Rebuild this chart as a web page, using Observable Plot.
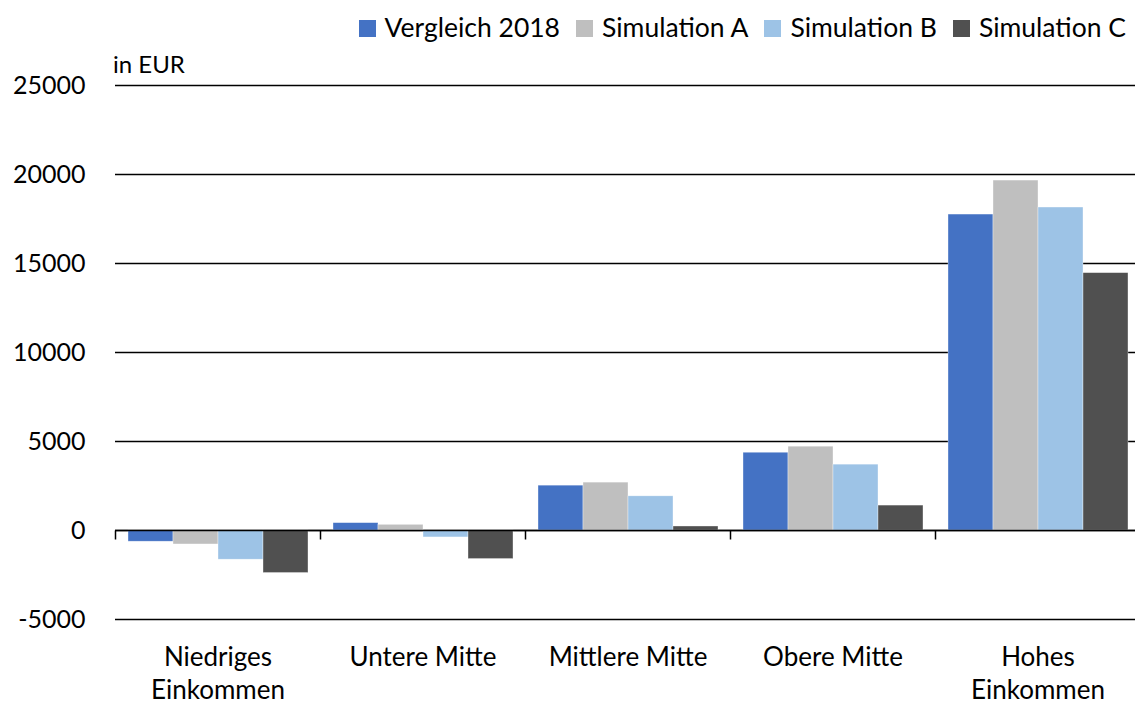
<!DOCTYPE html>
<html>
<head>
<meta charset="utf-8">
<script src="https://cdn.jsdelivr.net/npm/d3@7"></script>
<script src="https://cdn.jsdelivr.net/npm/@observablehq/plot@0.6"></script>
<style>
  html, body { margin: 0; padding: 0; overflow: hidden; background: #fff; }
  body { width: 1135px; height: 704px; position: relative; font-family: Lato, sans-serif; color: #000; }
  #chart { position: absolute; left: 0; top: 0; width: 1135px; height: 704px; overflow: hidden; }
  #legend { position: absolute; top: 14px; right: 9px; font-size: 26.5px; line-height: 26px; white-space: nowrap; }
  #legend .item { display: inline-block; margin-left: 16px; }
  #legend .sw { display: inline-block; width: 17px; height: 17px; margin-right: 9px; }
  #unit { position: absolute; left: 113px; top: 52px; font-size: 24px; line-height: 24px; }
</style>
</head>
<body>
<div id="chart"></div>
<div id="unit">in EUR</div>
<div id="legend"></div>
<script>
const categories = ["Niedriges Einkommen", "Untere Mitte", "Mittlere Mitte", "Obere Mitte", "Hohes Einkommen"];
const categoryLabels = ["Niedriges\nEinkommen", "Untere Mitte", "Mittlere Mitte", "Obere Mitte", "Hohes\nEinkommen"];
const seriesNames = ["Vergleich 2018", "Simulation A", "Simulation B", "Simulation C"];
const vergleich2018 = [-630, 415, 2520, 4370, 17750];
const simulationA = [-785, 320, 2690, 4710, 19660];
const simulationB = [-1640, -390, 1920, 3700, 18145];
const simulationC = [-2390, -1605, 225, 1400, 14460];
const seriesColors = ["#4472C4", "#BFBFBF", "#9DC3E6", "#505050"];
const yTicks = [-5000, 0, 5000, 10000, 15000, 20000, 25000];

const seriesValues = [vergleich2018, simulationA, simulationB, simulationC];
const table = categories.flatMap((c, i) =>
  seriesNames.map((s, j) => ({category: c, series: s, value: seriesValues[j][i]}))
);

const tickSymbol = {
  draw(context) { context.moveTo(0, 0); context.lineTo(0, 9); }
};

const chart = Plot.plot({
  width: 1135,
  height: 704,
  marginTop: 85,
  marginBottom: 85,
  marginLeft: 113,
  marginRight: -7,
  style: {fontFamily: "Lato", fontSize: "25px", color: "black", background: "transparent"},
  facet: {data: table, x: "category"},
  fx: {domain: categories, padding: 0, axis: null, label: null},
  x: {domain: seriesNames, paddingInner: 0, paddingOuter: 0.237, axis: null},
  y: {domain: [-5000, 25000], ticks: yTicks, tickFormat: d => String(d), tickSize: 0, tickPadding: 30, label: null},
  color: {domain: seriesNames, range: seriesColors},
  marks: [
    Plot.ruleY(yTicks, {stroke: "black", strokeWidth: 1.5}),
    Plot.barY(table, {x: "series", y: "value", fill: "series", stroke: "white", strokeWidth: 0.6, strokeOpacity: 0.6}),
    Plot.ruleY([0], {stroke: "black", strokeWidth: 1.5}),
    Plot.dot([0], {y: d => d, frameAnchor: "left", symbol: tickSymbol, stroke: "black", strokeWidth: 1.5, fill: "none"}),
    Plot.text(table, {
      filter: d => d.series === seriesNames[0],
      text: d => categoryLabels[categories.indexOf(d.category)],
      frameAnchor: "bottom", lineAnchor: "top", dy: 23, lineHeight: 1.28, fontSize: 26, fill: "black"
    })
  ]
});
document.getElementById("chart").append(chart);

const legend = document.getElementById("legend");
seriesNames.forEach((s, i) => {
  const item = document.createElement("span");
  item.className = "item";
  const sw = document.createElement("span");
  sw.className = "sw";
  sw.style.background = seriesColors[i];
  item.append(sw, document.createTextNode(s));
  legend.append(item);
});
</script>
</body>
</html>
